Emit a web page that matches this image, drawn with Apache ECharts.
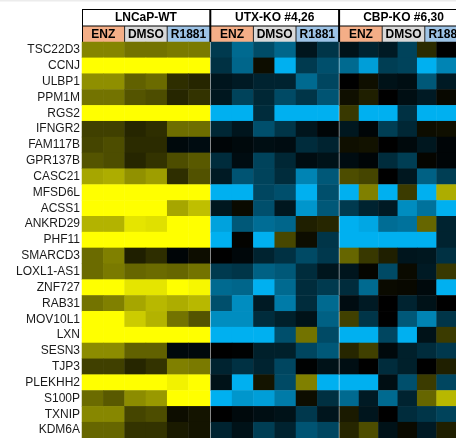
<!DOCTYPE html>
<html>
<head>
<meta charset="utf-8">
<script src="https://cdn.jsdelivr.net/npm/echarts@6/dist/echarts.min.js"></script>
<style>
  html, body { margin: 0; padding: 0; background: #fff; }
  #heatmap { width: 456px; height: 438px; }
</style>
</head>
<body>
<div id="heatmap"></div>
<script>
// genes (rows, top to bottom)
var genes = ['TSC22D3', 'CCNJ', 'ULBP1', 'PPM1M', 'RGS2', 'IFNGR2', 'FAM117B', 'GPR137B', 'CASC21',
  'MFSD6L', 'ACSS1', 'ANKRD29', 'PHF11', 'SMARCD3', 'LOXL1-AS1', 'ZNF727', 'RAB31', 'MOV10L1',
  'LXN', 'SESN3', 'TJP3', 'PLEKHH2', 'S100P', 'TXNIP', 'KDM6A'];

var groups = ['LNCaP-WT', 'UTX-KO #4,26', 'CBP-KO #6,30'];
var conditions = ['ENZ', 'DMSO', 'R1881'];
var columns = ['ENZ-1', 'ENZ-2', 'DMSO-1', 'DMSO-2', 'R1881-1', 'R1881-2'];

// scaled expression, -1 (blue) .. 0 (black) .. 1 (yellow)
var wtVals = [
  [0.52, 0.52, 0.45, 0.45, 0.48, 0.48],
  [1, 1, 1, 1, 1, 1],
  [0.56, 0.56, 0.38, 0.42, 0.18, 0.15],
  [0.45, 0.45, 0.33, 0.3, 0.15, 0.2],
  [1, 1, 1, 1, 1, 1],
  [0.25, 0.25, 0.15, 0.18, 0.43, 0.43],
  [0.27, 0.3, 0.17, 0.17, -0.05, -0.07],
  [0.33, 0.3, 0.15, 0.2, 0.3, 0.35],
  [0.65, 0.68, 0.57, 0.62, 0.18, 0.32],
  [1, 1, 1, 1, 1, 1],
  [1, 1, 1, 1, 0.65, 0.75],
  [0.7, 0.7, 0.9, 0.88, 1, 1],
  [1, 1, 1, 1, 1, 1],
  [0.42, 0.5, 0.12, 0.18, -0.03, 0.05],
  [0.42, 0.48, 0.4, 0.42, 0.4, 0.45],
  [1, 1, 0.9, 0.9, 1, 0.97],
  [0.45, 0.5, 0.65, 0.72, 0.68, 0.72],
  [1, 1, 0.8, 0.7, 0.45, 0.33],
  [1, 1, 1, 1, 1, 1],
  [0.55, 0.55, 0.38, 0.38, -0.05, -0.05],
  [0.25, 0.25, 0.15, 0.2, 0.5, 0.48],
  [1, 1, 1, 1, 0.95, 1],
  [0.42, 0.35, 0.55, 0.6, 1, 1],
  [0.53, 0.53, 0.27, 0.3, 0.05, 0.08],
  [0.4, 0.4, 0.2, 0.2, 0.1, 0.08]
];

var utxVals = [
  [-0.33, -0.6, -0.43, -0.58, -0.12, -0.3],
  [-0.28, -0.58, 0.05, -1, -0.33, -0.45],
  [-0.12, -0.15, -0.2, -0.2, -0.6, -0.4],
  [-0.13, -0.38, -0.22, -0.42, -0.3, -0.48],
  [-1, -1, -0.25, -1, -1, -1],
  [-0.22, -0.12, -0.45, -0.3, -0.12, -0.03],
  [-0.03, -0.05, -0.08, -0.07, -0.25, -0.2],
  [-0.25, -0.07, -0.38, -0.22, -0.07, -0.1],
  [-0.15, -0.48, -0.38, -0.25, -0.75, -0.5],
  [-1, -1, -0.4, -0.45, -1, -0.45],
  [-0.13, 0.04, -0.45, -0.13, -0.85, -0.5],
  [-0.92, -0.5, -0.62, -0.58, 0.12, 0.15],
  [-1, 0.01, -1, 0.28, 0.05, -0.3],
  [0, -0.04, -0.2, -0.28, -0.42, -0.32],
  [-0.33, -0.3, -0.55, -0.5, -0.25, -0.12],
  [-0.6, -0.58, -1, -0.6, -0.25, -0.33],
  [-0.45, -0.8, -0.15, -0.7, -0.25, -0.6],
  [-0.8, -0.8, -0.25, -0.18, -0.1, -0.55],
  [-1, -1, -1, -0.45, 0.45, -0.42],
  [0, -0.01, -0.18, -0.18, -0.4, -0.5],
  [-0.2, -0.28, -0.2, -0.4, -0.01, -0.1],
  [-0.1, -1, 0.08, -0.42, 0.5, -1],
  [-1, -0.85, -0.9, -0.7, 0.05, -0.27],
  [0, -0.05, -0.08, -0.1, -0.32, -0.12],
  [-0.2, -0.1, -0.35, -0.2, -0.48, -0.4]
];

var cbpVals = [
  [-0.1, -0.2, -0.15, -0.38, 0.17, 0],
  [-0.6, -0.9, -0.35, -0.38, -1, -0.75],
  [0, 0.06, -0.1, -0.08, -0.5, -0.15],
  [0.06, 0.12, 0, -0.08, -0.15, 0.03],
  [0.22, -1, -1, -0.28, -1, -1],
  [-0.13, -0.03, -0.35, -0.22, 0.05, 0.06],
  [0.06, 0.07, 0, -0.05, -0.13, -0.03],
  [-0.07, -0.03, -0.25, -0.35, 0.02, -0.03],
  [0.3, 0.27, 0, -0.13, -0.55, -0.35],
  [-1, 0.5, -1, 0.23, -1, 0.68],
  [-0.33, -0.2, -0.15, -0.8, -0.65, -1],
  [-1, -0.95, -0.62, -0.65, 0.4, -0.2],
  [-1, -1, -1, -1, -1, -0.2],
  [0.4, 0.22, 0.12, -0.12, -0.13, -0.28],
  [-0.12, 0.02, -0.42, 0.04, -0.15, 0.22],
  [-0.25, -0.6, 0.04, 0.03, -0.05, -1],
  [-0.07, -0.15, 0, -0.2, -0.1, 0],
  [0.25, -0.3, 0, -0.5, -0.75, -0.3],
  [-1, -1, -0.4, -1, -0.1, 0.23],
  [0.15, 0.25, -0.05, -0.18, -0.25, -0.32],
  [-0.08, 0, -0.25, -0.18, 0, 0.12],
  [-1, -1, -0.08, -0.45, 0.23, -0.4],
  [-0.6, -0.15, -0.6, -0.2, 0.4, 0.72],
  [0.1, -0.12, 0, -0.25, -0.3, -0.38],
  [0.15, 0.3, -0.1, 0.04, -0.15, 0.12]
];

var condColors = ['#F4AE87', '#D9D9D9', '#9DC3E6'];

// layout
var gridLeft = [82, 210.8, 339.6];
var gridWidth = 127.8;
var gridTop = 42;
var gridHeight = 402.5;
var fontFamily = '"Liberation Sans", Arial, sans-serif';

function toCells(vals) {
  var out = [];
  for (var r = 0; r < vals.length; r++) {
    for (var c = 0; c < vals[r].length; c++) {
      out.push([c, r, vals[r][c]]);
    }
  }
  return out;
}

var allVals = [wtVals, utxVals, cbpVals];
var grids = [], xAxes = [], yAxes = [], series = [];
var hdrRight = gridLeft[2] + gridWidth;

// header backgrounds first, lines on top
var graphics = [
  { type: 'rect', shape: { x: 0, y: 0, width: 456, height: 1.5 }, style: { fill: '#ECECEC' } },
  { type: 'rect', shape: { x: gridLeft[0], y: 9, width: hdrRight - gridLeft[0], height: 17 }, style: { fill: '#fff' } }
];
var lines = [
  { type: 'line', shape: { x1: gridLeft[0], y1: 9.5, x2: hdrRight, y2: 9.5 }, style: { stroke: '#000', lineWidth: 1 } },
  { type: 'line', shape: { x1: gridLeft[0], y1: 26, x2: hdrRight, y2: 26 }, style: { stroke: '#000', lineWidth: 1 } },
  { type: 'line', shape: { x1: gridLeft[0] + 0.5, y1: 9, x2: gridLeft[0] + 0.5, y2: 42 }, style: { stroke: '#000', lineWidth: 1 } }
];

for (var g = 0; g < 3; g++) {
  grids.push({ left: gridLeft[g], top: gridTop, width: gridWidth, height: gridHeight });
  xAxes.push({
    type: 'category', gridIndex: g, data: columns, show: false
  });
  yAxes.push({
    type: 'category', gridIndex: g, data: genes, inverse: true,
    axisLine: { show: false }, axisTick: { show: false }, splitLine: { show: false },
    axisLabel: {
      show: g === 0, margin: 2, color: '#1a1a1a', fontSize: 12, fontFamily: fontFamily
    }
  });
  series.push({
    type: 'heatmap', xAxisIndex: g, yAxisIndex: g,
    data: toCells(allVals[g]),
    itemStyle: { borderWidth: 0 },
    emphasis: { disabled: true }
  });

  var x0 = gridLeft[g];
  var cw = gridWidth / 3;
  graphics.push({
    type: 'text', x: x0 + gridWidth / 2, y: 18,
    style: { text: groups[g], fill: '#000', font: 'bold 12px ' + fontFamily, align: 'center', verticalAlign: 'middle' }
  });
  for (var c = 0; c < 3; c++) {
    var extra = (c === 2 && g < 2) ? 1 : 0;
    graphics.push({
      type: 'rect', shape: { x: x0 + c * cw, y: 26, width: cw + extra, height: 16 },
      style: { fill: condColors[c] }
    });
    graphics.push({
      type: 'text', x: x0 + c * cw + cw / 2, y: 34.5,
      style: { text: conditions[c], fill: '#000', font: 'bold 12px ' + fontFamily, align: 'center', verticalAlign: 'middle' }
    });
    if (c > 0) {
      lines.push({
        type: 'line', shape: { x1: x0 + c * cw, y1: 26, x2: x0 + c * cw, y2: 42 },
        style: { stroke: '#222', lineWidth: 1 }
      });
    }
  }
  if (g > 0) {
    // thicker black divider between groups in the header
    lines.push({
      type: 'line', shape: { x1: x0 - 0.5, y1: 9, x2: x0 - 0.5, y2: 42 },
      style: { stroke: '#000', lineWidth: 2 }
    });
  }
}

var myChart = echarts.init(document.getElementById('heatmap'));
var option = {
  animation: false,
  backgroundColor: '#fff',
  grid: grids,
  xAxis: xAxes,
  yAxis: yAxes,
  visualMap: {
    show: false, type: 'continuous', min: -1, max: 1,
    seriesIndex: [0, 1, 2],
    inRange: { color: ['#00B0F0', '#000000', '#FFFF00'] }
  },
  series: series,
  graphic: graphics.concat(lines)
};
myChart.setOption(option);
</script>
</body>
</html>
